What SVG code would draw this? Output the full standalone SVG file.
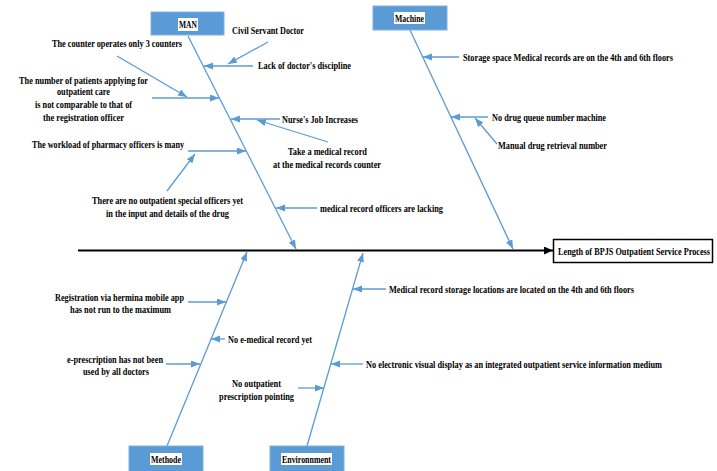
<svg xmlns="http://www.w3.org/2000/svg" width="717" height="471" viewBox="0 0 717 471">
  <defs>
    <marker id="ah" markerUnits="userSpaceOnUse" markerWidth="10" markerHeight="8" refX="9" refY="3.5" orient="auto">
      <path d="M0,0 L9,3.5 L0,7 z" fill="#5B9BD5"/>
    </marker>
    <marker id="ahk" markerUnits="userSpaceOnUse" markerWidth="10" markerHeight="10" refX="9" refY="4" orient="auto">
      <path d="M0,0 L9,4 L0,8 z" fill="#000"/>
    </marker>
  </defs>
  <style>
    .t { font-family: "Liberation Serif", "Times New Roman", serif; font-weight: bold; font-size: 10.5px; fill: #000; }
    .bone { stroke: #5B9BD5; stroke-width: 1.3; fill: none; marker-end: url(#ah); }
    .sub { stroke: #5B9BD5; stroke-width: 1.3; fill: none; marker-end: url(#ah); }
    .cat { fill: #5B9BD5; stroke: #7FB2E0; stroke-width: 1; }
    .lbg { fill: #fff; }
  </style>
  <rect width="717" height="471" fill="#fff"/>

  <!-- spine and category bones -->
  <g id="connectors">
    <line x1="78" y1="250.5" x2="553" y2="250.5" stroke="#000" stroke-width="2" marker-end="url(#ahk)"/>
    <line class="bone" x1="188" y1="36" x2="296" y2="249"/>
    <line class="bone" x1="410" y1="30" x2="513" y2="249"/>
    <line class="bone" x1="167" y1="446" x2="247" y2="252"/>
    <line class="bone" x1="307" y1="446" x2="363" y2="253"/>

    <!-- MAN causes -->
    <line class="sub" x1="268" y1="42" x2="228" y2="64"/>
    <line class="sub" x1="253" y1="66" x2="204" y2="66"/>
    <line class="sub" x1="117" y1="56" x2="187" y2="97"/>
    <line class="sub" x1="152" y1="98" x2="219" y2="98"/>
    <line class="sub" x1="280" y1="119" x2="231" y2="119"/>
    <line class="sub" x1="328" y1="142" x2="257" y2="120"/>
    <line class="sub" x1="188" y1="151" x2="246" y2="151"/>
    <line class="sub" x1="167" y1="191" x2="195" y2="154"/>
    <line class="sub" x1="317" y1="208" x2="276" y2="208"/>

    <!-- Machine causes -->
    <line class="sub" x1="459" y1="57" x2="423" y2="57"/>
    <line class="sub" x1="488" y1="117" x2="451" y2="117"/>
    <line class="sub" x1="497" y1="144" x2="475" y2="118"/>

    <!-- Methode causes -->
    <line class="sub" x1="188" y1="302" x2="226" y2="302"/>
    <line class="sub" x1="225" y1="339" x2="211" y2="339"/>
    <line class="sub" x1="166" y1="364" x2="200" y2="364"/>

    <!-- Environment causes -->
    <line class="sub" x1="386" y1="289" x2="353" y2="289"/>
    <line class="sub" x1="363" y1="364" x2="331" y2="364"/>
    <line class="sub" x1="298" y1="388" x2="324" y2="388"/>
  </g>

  <!-- category boxes (labels drawn condensed: scale 0.78 horizontally) -->
  <g id="man">
    <rect class="cat" x="151" y="12" width="73" height="23"/>
    <rect class="lbg" x="178" y="18" width="20" height="13"/>
    <text class="t" transform="translate(179,28) scale(0.78,1)" textLength="23.1" lengthAdjust="spacingAndGlyphs">MAN</text>
  </g>
  <g id="machine">
    <rect class="cat" x="373" y="6" width="74" height="24"/>
    <rect class="lbg" x="394" y="12" width="31" height="12"/>
    <text class="t" transform="translate(395,21.5) scale(0.78,1)" textLength="37.2" lengthAdjust="spacingAndGlyphs">Machine</text>
  </g>
  <g id="methode">
    <rect class="cat" x="129" y="446" width="74" height="30"/>
    <rect class="lbg" x="150" y="453" width="32" height="12"/>
    <text class="t" transform="translate(151,462.5) scale(0.78,1)" textLength="38.5" lengthAdjust="spacingAndGlyphs">Methode</text>
  </g>
  <g id="environment">
    <rect class="cat" x="270" y="446" width="74" height="30"/>
    <rect class="lbg" x="281" y="453" width="51" height="12"/>
    <text class="t" transform="translate(282,462.5) scale(0.78,1)" textLength="62.8" lengthAdjust="spacingAndGlyphs">Environnment</text>
  </g>

  <!-- effect -->
  <g id="effect">
    <rect x="553.5" y="239.5" width="159" height="23" fill="#fff" stroke="#000" stroke-width="1.5"/>
    <text class="t" transform="translate(558,254.5) scale(0.78,1)" textLength="194.9" lengthAdjust="spacingAndGlyphs">Length of BPJS Outpatient Service Process</text>
  </g>

  <!-- MAN cause labels -->
  <g id="man-causes">
    <text class="t" transform="translate(232,33.5) scale(0.78,1)" textLength="92.3" lengthAdjust="spacingAndGlyphs">Civil Servant Doctor</text>
    <text class="t" transform="translate(258,68.5) scale(0.78,1)" textLength="119.2" lengthAdjust="spacingAndGlyphs">Lack of doctor's discipline</text>
    <text class="t" transform="translate(52,46.5) scale(0.78,1)" textLength="166.7" lengthAdjust="spacingAndGlyphs">The counter operates only 3 counters</text>
    <text class="t" transform="translate(19,83.5) scale(0.78,1)" textLength="165.4" lengthAdjust="spacingAndGlyphs">The number of patients applying for</text>
    <text class="t" transform="translate(57,94.5) scale(0.78,1)" textLength="67.9" lengthAdjust="spacingAndGlyphs">outpatient care</text>
    <text class="t" transform="translate(35,107.5) scale(0.78,1)" textLength="124.4" lengthAdjust="spacingAndGlyphs">is not comparable to that of</text>
    <text class="t" transform="translate(43,120.5) scale(0.78,1)" textLength="103.8" lengthAdjust="spacingAndGlyphs">the registration officer</text>
    <text class="t" transform="translate(282,122.5) scale(0.78,1)" textLength="97.4" lengthAdjust="spacingAndGlyphs">Nurse's Job Increases</text>
    <text class="t" transform="translate(288,154.5) scale(0.78,1)" textLength="101.3" lengthAdjust="spacingAndGlyphs">Take a medical record</text>
    <text class="t" transform="translate(273,167.5) scale(0.78,1)" textLength="138.5" lengthAdjust="spacingAndGlyphs">at the medical records counter</text>
    <text class="t" transform="translate(32,147.5) scale(0.78,1)" textLength="194.9" lengthAdjust="spacingAndGlyphs">The workload of pharmacy officers is many</text>
    <text class="t" transform="translate(92,203.5) scale(0.78,1)" textLength="193.6" lengthAdjust="spacingAndGlyphs">There are no outpatient special officers yet</text>
    <text class="t" transform="translate(106,216.5) scale(0.78,1)" textLength="157.7" lengthAdjust="spacingAndGlyphs">in the input and details of the drug</text>
    <text class="t" transform="translate(320,211.5) scale(0.78,1)" textLength="157.7" lengthAdjust="spacingAndGlyphs">medical record officers are lacking</text>
  </g>

  <!-- Machine cause labels -->
  <g id="machine-causes">
    <text class="t" transform="translate(463,60.5) scale(0.78,1)" textLength="269.2" lengthAdjust="spacingAndGlyphs">Storage space Medical records are on the 4th and 6th floors</text>
    <text class="t" transform="translate(492,120.5) scale(0.78,1)" textLength="146.2" lengthAdjust="spacingAndGlyphs">No drug queue number machine</text>
    <text class="t" transform="translate(498,148.5) scale(0.78,1)" textLength="139.7" lengthAdjust="spacingAndGlyphs">Manual drug retrieval number</text>
  </g>

  <!-- Methode cause labels -->
  <g id="methode-causes">
    <text class="t" transform="translate(55,300.5) scale(0.78,1)" textLength="165.4" lengthAdjust="spacingAndGlyphs">Registration via hermina mobile app</text>
    <text class="t" transform="translate(70,312.8) scale(0.78,1)" textLength="129.5" lengthAdjust="spacingAndGlyphs">has not run to the maximum</text>
    <text class="t" transform="translate(228,342.5) scale(0.78,1)" textLength="107.7" lengthAdjust="spacingAndGlyphs">No e-medical record yet</text>
    <text class="t" transform="translate(67,362.5) scale(0.78,1)" textLength="123.1" lengthAdjust="spacingAndGlyphs">e-prescription has not been</text>
    <text class="t" transform="translate(83,374.8) scale(0.78,1)" textLength="84.6" lengthAdjust="spacingAndGlyphs">used by all doctors</text>
  </g>

  <!-- Environment cause labels -->
  <g id="environment-causes">
    <text class="t" transform="translate(389,292.5) scale(0.78,1)" textLength="314.1" lengthAdjust="spacingAndGlyphs">Medical record storage locations are located on the 4th and 6th floors</text>
    <text class="t" transform="translate(366,367.5) scale(0.78,1)" textLength="379.5" lengthAdjust="spacingAndGlyphs">No electronic visual display as an integrated outpatient service information medium</text>
    <text class="t" transform="translate(232,386.5) scale(0.78,1)" textLength="62.8" lengthAdjust="spacingAndGlyphs">No outpatient</text>
    <text class="t" transform="translate(219,399.5) scale(0.78,1)" textLength="96.2" lengthAdjust="spacingAndGlyphs">prescription pointing</text>
  </g>
</svg>
